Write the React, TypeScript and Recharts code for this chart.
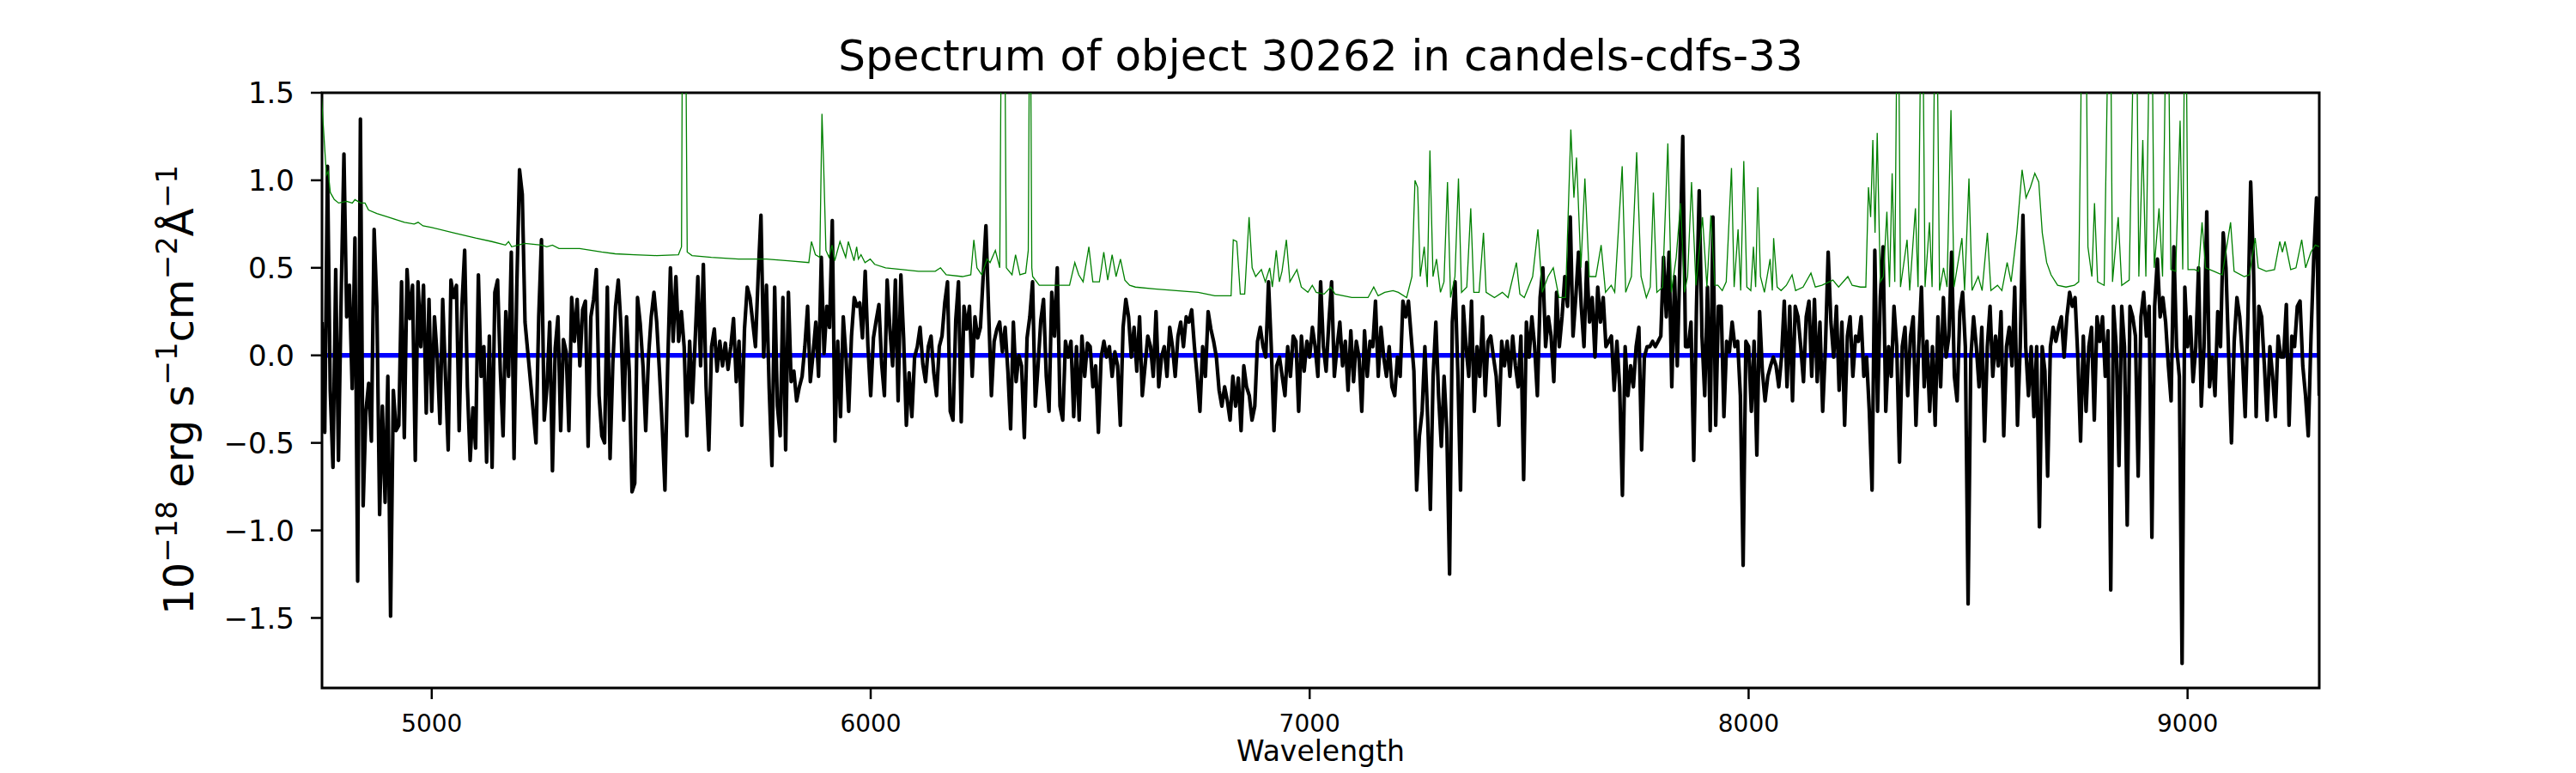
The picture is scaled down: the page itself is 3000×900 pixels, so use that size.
import React from 'react';
import { LineChart, Line, XAxis, YAxis, ReferenceArea } from 'recharts';

// axis ticks
const X_TICKS = [5000, 6000, 7000, 8000, 9000];
const Y_TICKS = [-1.5, -1.0, -0.5, 0.0, 0.5, 1.0, 1.5];
const X_RANGE = [4750, 9300];
const Y_RANGE = [-1.9, 1.5];

// observed flux, sampled on a regular wavelength grid (Angstrom)
const FLUX_START = 4750;
const FLUX_STEP = 6.25;
const flux = [
  // 4750
  0.19, -0.44, 1.08, -0.20, -0.64, 0.49, -0.60, 0.35, 1.15, 0.22, 0.40, -0.19, 0.67, -1.29, 1.35, -0.86, -0.32, -0.16, -0.49, 0.72,
  0.28, -0.91, -0.29, -0.84, -0.12, -1.49, -0.20, -0.43, -0.40, 0.42, -0.47, 0.49, 0.21, 0.40, -0.60, 0.42, 0.05, 0.40, -0.33, 0.32,
  -0.32, 0.22, -0.01, -0.39, 0.32, -0.12, -0.54, 0.43, 0.33, 0.40, -0.43, 0.28, 0.60, -0.18, -0.60, -0.30, -0.53, 0.46, -0.12, 0.05,
  -0.61, 0.11, -0.64, 0.36, 0.43, -0.09, -0.46, 0.25, -0.12, 0.59, -0.59, 0.39, 1.06, 0.92, 0.19, 0.02, -0.15, -0.32, -0.50, 0.22,
  0.66, -0.37, -0.18, 0.19, -0.66, 0.04, 0.22, -0.43, 0.09, 0.02, -0.43, 0.33, 0.08, 0.32, -0.06, 0.26, 0.31, -0.52, 0.22, 0.32,
  0.49, -0.23, -0.46, -0.50, 0.39, -0.59, -0.05, 0.28, 0.43, 0.16, -0.37, 0.22, -0.09, -0.78, -0.73, 0.33, 0.18, -0.06, -0.43, -0.01,
  0.22, 0.36, 0.19, -0.09, -0.40, -0.77, -0.06, 0.50, 0.08, 0.45, 0.08, 0.25, 0.05, -0.46, 0.08, -0.27, 0.08, 0.45, -0.06, 0.52,
  -0.18, -0.54, 0.05, 0.15, -0.09, 0.08, -0.06, 0.07, -0.08, 0.05, 0.21, -0.15, 0.08, -0.40, 0.15, 0.39, 0.33, 0.19, 0.05, 0.46,
  0.80, -0.01, 0.40, -0.19, -0.63, 0.39, -0.29, -0.46, 0.33, -0.54, 0.36, -0.15, -0.09, -0.26, -0.18, -0.12, 0.05, 0.28, -0.15, 0.01,
  0.19, -0.12, 0.56, 0.01, 0.28, 0.16, 0.77, -0.49, 0.08, -0.35, 0.22, -0.01, -0.32, 0.11, 0.33, 0.28,
  // 5975
  0.30, 0.10, 0.48, 0.05, -0.23, 0.10, 0.20, 0.29, -0.05, -0.23, 0.43, 0.15, -0.06, 0.43, -0.26, 0.46, 0.10, -0.40, -0.10, -0.35,
  -0.01, 0.05, 0.16, -0.05, -0.15, 0.05, 0.11, -0.10, -0.23, 0.05, 0.11, 0.30, 0.42, -0.32, -0.37, 0.20, 0.42, -0.38, 0.28, 0.15,
  0.28, -0.12, 0.22, 0.10, 0.16, 0.45, 0.74, 0.25, -0.23, 0.08, 0.15, 0.19, 0.02, 0.16, -0.09, -0.42, 0.19, -0.15, 0.00, -0.06,
  -0.47, 0.10, 0.22, 0.42, -0.29, -0.06, 0.20, 0.32, -0.12, -0.32, 0.36, 0.11, 0.50, -0.29, -0.37, 0.08, -0.01, 0.08, -0.35, 0.05,
  -0.37, 0.11, -0.12, 0.07, 0.05, -0.18, -0.06, -0.44, -0.01, 0.08, -0.01, 0.05, -0.12, 0.02, -0.06, -0.40, 0.16, 0.32, 0.22, -0.01,
  0.16, -0.09, 0.22, -0.23, -0.06, 0.11, 0.05, -0.12, 0.25, -0.18, -0.01, 0.05, -0.12, 0.16, 0.05, -0.12, 0.11, 0.19, 0.05, 0.22,
  0.19, 0.26, 0.05, -0.12, -0.32, 0.05, -0.12, 0.25, 0.15, 0.08, -0.01, -0.20, -0.29, -0.18, -0.26, -0.37, -0.12, -0.29, -0.13, -0.43,
  -0.06, -0.18, -0.23, -0.37, -0.29, 0.08, 0.16, 0.05, -0.01, 0.42, 0.05, -0.43, -0.06, -0.01, -0.12, -0.23, 0.05, -0.12, 0.11, 0.08,
  -0.32, 0.11, -0.09, 0.08, -0.01, 0.16, 0.05, -0.12, 0.42, 0.05, -0.09, 0.19, 0.42, -0.12, 0.05, 0.19, -0.06, 0.08, -0.20, 0.14,
  -0.15, 0.08, -0.01, -0.32, 0.14, -0.12, 0.08, 0.05, 0.31, -0.12, 0.16, -0.01, -0.12, 0.05, -0.18, -0.23, -0.01, -0.12, 0.31, 0.22,
  0.31, 0.11, -0.09, -0.77, -0.46, -0.32, 0.05, -0.35, -0.88, -0.12, 0.19, -0.23, -0.52, -0.12, -0.43, -1.25, 0.19, 0.42, -0.09, -0.77,
  0.28, 0.05, -0.12, 0.31, -0.32, 0.05, -0.12, 0.22, -0.23, 0.08, 0.11, -0.01, -0.12, -0.40, 0.08, -0.06, 0.08, -0.12, 0.11, -0.06,
  -0.18, 0.11, -0.71, 0.19, -0.01, 0.22, 0.05, -0.23, 0.33, 0.50, 0.05, 0.22, 0.11, -0.15, 0.36, 0.05, 0.22, 0.45, 0.28, 0.79,
  0.11, 0.33, 0.59, 0.28, 0.05, 0.53, 0.19, 0.33, -0.01, 0.39, 0.19, 0.33, 0.05, 0.08, 0.11, -0.20, 0.08, -0.18, -0.80, 0.05,
  -0.23, -0.06, -0.18, 0.05, 0.16, -0.54, -0.01, 0.05, 0.05, 0.08, 0.05, 0.08, 0.11, 0.56, 0.22, 0.59, -0.18, 0.45, -0.06, 0.56,
  1.25, 0.05, 0.05, 0.19, -0.60, 0.28, 0.94, 0.11, -0.23, 0.39, -0.43, 0.79, -0.40,
  // 7931
  0.28, 0.28, -0.35, 0.08, 0.02, 0.19, 0.05, 0.08, -0.23, -1.20, 0.08, 0.05, -0.32, 0.08, -0.57, 0.25, -0.09, -0.26, -0.12, -0.06,
  -0.01, -0.06, -0.18, -0.01, 0.31, -0.18, 0.28, -0.26, 0.28, 0.22, 0.05, -0.15, 0.22, 0.31, -0.12, 0.32, -0.15, 0.19, -0.32, 0.05,
  0.59, 0.19, -0.01, 0.28, -0.20, 0.19, -0.40, 0.11, 0.22, -0.12, 0.11, 0.08, 0.22, -0.12, -0.01, -0.32, -0.77, 0.60, -0.32, 0.33,
  0.62, -0.32, 0.05, -0.12, 0.28, 0.05, -0.61, 0.05, 0.16, -0.23, 0.11, 0.22, -0.40, 0.05, 0.39, -0.18, 0.08, -0.32, 0.05, -0.40,
  0.22, -0.18, 0.33, -0.01, 0.11, 0.59, -0.12, -0.26, 0.25, 0.36, 0.05, -1.42, -0.01, 0.22, 0.05, -0.18, 0.16, -0.49, 0.05, 0.28,
  -0.12, 0.11, -0.06, 0.25, -0.46, 0.05, 0.16, -0.06, 0.39, -0.40, 0.05, 0.80, 0.05, -0.23, 0.05, -0.35, 0.05, -0.98, 0.05, -0.09,
  -0.69, 0.05, 0.16, 0.08, 0.16, 0.22, -0.01, 0.22, 0.36, 0.28, 0.33, -0.01, -0.49, 0.11, -0.32, 0.05, 0.16, -0.37, 0.22, 0.08,
  0.22, -0.12, 0.14, -1.34, 0.28, 0.05, -0.63, 0.28, 0.05, -0.97, 0.28, 0.22, 0.11, -0.69, 0.22, 0.36, 0.11, 0.28, -1.04, 0.28,
  0.55, 0.22, 0.33, 0.19, -0.06, -0.26, 0.62, 0.05, -0.12, -1.76, 0.39, 0.05, 0.22, -0.15, 0.05, 0.50, -0.29, 0.05, 0.82, -0.18,
  -0.01, -0.23, 0.25, 0.05, 0.70, 0.50, -0.01, -0.50, 0.08, 0.33, 0.22, -0.01, -0.35, 0.22, 0.99, 0.53, -0.35, 0.28, 0.22, -0.06,
  -0.37, 0.05, -0.12, -0.35, 0.11, -0.01, -0.01, 0.29, -0.40, 0.11, 0.05, 0.28, 0.31, -0.06, -0.23, -0.46, 0.11, 0.56, 0.90, -0.23,
];

// noise spectrum: [wavelength, value]; sky lines run off the top
const noise = [
  [4749, 1.47], [4760, 1.03], [4764, 1.05], [4769, 0.93], [4778, 0.89], [4788, 0.87], [4806, 0.88], [4819, 0.87],
  [4825, 0.89], [4838, 0.87], [4848, 0.87], [4856, 0.83], [4875, 0.81], [4900, 0.79], [4938, 0.76], [4960, 0.75],
  [4969, 0.76], [4980, 0.74], [5000, 0.73], [5050, 0.70], [5100, 0.67], [5137, 0.65], [5168, 0.63], [5175, 0.65],
  [5182, 0.62], [5212, 0.64], [5250, 0.63], [5262, 0.62], [5275, 0.63], [5290, 0.61], [5337, 0.61], [5387, 0.59],
  [5418, 0.58], [5462, 0.575], [5512, 0.57], [5562, 0.575], [5569, 0.62], [5572, 2.5], [5577, 2.5], [5582, 0.59],
  [5593, 0.57], [5637, 0.56], [5699, 0.55], [5762, 0.55], [5812, 0.54], [5859, 0.53], [5865, 0.65], [5874, 0.575],
  [5884, 0.56], [5889, 1.38], [5893, 1.07], [5898, 0.60], [5905, 0.56], [5912, 0.63], [5918, 0.54], [5930, 0.65],
  [5943, 0.56], [5949, 0.65], [5962, 0.54], [5968, 0.62],
  [5972, 0.55], [5978, 0.575], [5987, 0.53], [5999, 0.55], [6009, 0.52], [6034, 0.50], [6072, 0.49], [6109, 0.48],
  [6147, 0.48], [6159, 0.50], [6172, 0.46], [6209, 0.45], [6228, 0.46], [6235, 0.66], [6242, 0.50], [6253, 0.46],
  [6265, 0.55], [6272, 0.53], [6284, 0.60], [6294, 0.50], [6299, 2.5], [6304, 2.5], [6309, 0.50], [6322, 0.46],
  [6330, 0.575], [6340, 0.46], [6353, 0.47], [6359, 0.60], [6363, 2.5], [6367, 0.50], [6369, 0.45], [6384, 0.40],
  [6422, 0.40], [6453, 0.40], [6465, 0.53], [6474, 0.46], [6484, 0.42], [6497, 0.62], [6506, 0.42], [6521, 0.42],
  [6531, 0.59], [6540, 0.43], [6550, 0.575], [6559, 0.45], [6569, 0.55], [6579, 0.43], [6590, 0.40], [6603, 0.39],
  [6646, 0.38], [6696, 0.37], [6746, 0.36], [6784, 0.34], [6821, 0.34], [6826, 0.66], [6834, 0.65], [6842, 0.35],
  [6852, 0.35], [6862, 0.79], [6869, 0.50], [6877, 0.45], [6890, 0.49], [6899, 0.42], [6909, 0.50], [6915, 0.39],
  [6924, 0.60], [6931, 0.42], [6937, 0.48], [6947, 0.66], [6955, 0.42], [6971, 0.49], [6981, 0.39], [6996, 0.36],
  [7006, 0.40], [7015, 0.36], [7033, 0.35], [7048, 0.39], [7058, 0.35], [7096, 0.33], [7133, 0.33], [7146, 0.39],
  [7156, 0.34], [7171, 0.36], [7190, 0.37], [7202, 0.36], [7221, 0.33], [7233, 0.45], [7240, 1.00], [7246, 0.96],
  [7252, 0.45], [7261, 0.62], [7268, 0.39], [7274, 1.17], [7281, 0.45], [7289, 0.55], [7298, 0.36], [7306, 0.42],
  [7314, 0.99], [7321, 0.33], [7331, 0.45], [7339, 1.01], [7346, 0.36], [7358, 0.39], [7367, 0.84], [7374, 0.36],
  [7386, 0.36], [7396, 0.70], [7402, 0.36], [7421, 0.33], [7439, 0.36], [7452, 0.33], [7471, 0.53], [7479, 0.35],
  [7489, 0.33], [7508, 0.45], [7520, 0.72], [7530, 0.36], [7543, 0.45], [7555, 0.50], [7568, 0.33], [7583, 0.33],
  [7595, 1.29], [7602, 0.90], [7608, 1.13], [7618, 0.50], [7627, 1.01], [7637, 0.45], [7652, 0.45], [7664, 0.63],
  [7674, 0.36], [7687, 0.40], [7695, 0.36], [7712, 1.08], [7720, 0.36], [7733, 0.45], [7745, 1.16], [7755, 0.45],
  [7767, 0.33], [7776, 0.39], [7783, 0.93], [7791, 0.36], [7804, 0.39], [7816, 1.21], [7824, 0.36], [7835, 0.56],
  [7845, 0.87], [7854, 0.36], [7861, 0.45], [7870, 0.99], [7880, 0.40], [7895, 0.79], [7905, 0.39], [7914, 0.80],
  [7923, 0.40],
  [7930, 0.40], [7940, 0.37], [7949, 0.42], [7961, 1.07], [7967, 0.39], [7976, 0.72], [7982, 0.37], [7989, 1.11],
  [7996, 0.39], [8005, 0.37], [8011, 0.62], [8016, 0.39], [8021, 0.96], [8027, 0.45], [8036, 0.36], [8049, 0.55],
  [8054, 0.37], [8057, 0.67], [8065, 0.39], [8074, 0.37], [8086, 0.40], [8099, 0.46], [8107, 0.37], [8124, 0.39],
  [8142, 0.47], [8152, 0.39], [8167, 0.40], [8192, 0.43], [8205, 0.39], [8226, 0.45], [8236, 0.40], [8255, 0.39],
  [8267, 0.39], [8273, 0.96], [8278, 0.79], [8283, 1.23], [8288, 0.70], [8293, 1.27], [8300, 0.42], [8307, 0.45],
  [8315, 0.82], [8321, 0.39], [8327, 1.04], [8333, 0.42], [8340, 2.5], [8346, 0.39], [8361, 0.66], [8367, 0.37],
  [8380, 0.84], [8386, 0.39], [8395, 2.5], [8402, 0.39], [8412, 0.76], [8418, 0.39], [8427, 2.5], [8435, 0.37],
  [8444, 0.50], [8452, 0.39], [8461, 1.40], [8468, 0.39], [8486, 0.67], [8492, 0.37], [8502, 1.01], [8509, 0.37],
  [8523, 0.45], [8532, 0.37], [8544, 0.70], [8552, 0.37], [8567, 0.40], [8577, 0.37], [8589, 0.53], [8598, 0.42],
  [8611, 0.70], [8623, 1.06], [8632, 0.90], [8642, 0.96], [8652, 1.04], [8661, 0.99], [8669, 0.70], [8679, 0.53],
  [8689, 0.46], [8704, 0.40], [8723, 0.39], [8742, 0.40], [8752, 0.42], [8757, 1.42], [8760, 2.5], [8767, 2.5],
  [8773, 0.62], [8782, 0.45], [8788, 0.87], [8795, 0.42], [8810, 0.40], [8823, 2.5], [8829, 0.42], [8842, 0.79],
  [8850, 0.40], [8867, 0.43], [8882, 2.5], [8889, 0.45], [8898, 1.23], [8905, 0.45], [8917, 2.5], [8924, 0.50],
  [8935, 0.84], [8943, 0.45], [8954, 2.5], [8962, 0.49], [8973, 0.48], [8983, 1.34], [8989, 0.49], [8995, 2.5],
  [9001, 0.49], [9016, 0.49], [9025, 0.48], [9033, 0.76], [9041, 0.50], [9060, 0.48], [9079, 0.46], [9098, 0.76],
  [9106, 0.48], [9129, 0.45], [9141, 0.46], [9154, 0.67], [9161, 0.50], [9179, 0.48], [9198, 0.49], [9210, 0.65],
  [9216, 0.59], [9222, 0.65], [9235, 0.49], [9247, 0.50], [9260, 0.66], [9269, 0.50], [9281, 0.59], [9291, 0.63],
  [9301, 0.62],
];

// fitted model (flat at zero)
const model = [[4750, 0], [9300, 0]];

const FONT = '"DejaVu Sans", sans-serif';

const fluxData = flux.map((f, i) => ({ w: FLUX_START + i * FLUX_STEP, f }));
const noiseData = noise.map(([w, v]) => ({ w, v }));
const modelData = model.map(([w, v]) => ({ w, v }));

const fmtY = (v: number) => (v < 0 ? '\u2212' : '') + Math.abs(v).toFixed(1);

export default function App() {
  return (
    <div style={{ position: 'absolute', left: 0, top: 0, width: 3000, height: 900, background: '#fff' }}>
      <LineChart width={3000} height={900} margin={{ top: 108, right: 299, bottom: 39, left: 275 }}>
        <XAxis
          type="number"
          dataKey="w"
          domain={X_RANGE}
          ticks={X_TICKS}
          interval={0}
          allowDataOverflow
          height={60}
          tickSize={13}
          tickMargin={18}
          axisLine={false}
          tickLine={{ stroke: '#000', strokeWidth: 2.5 }}
          tick={{ fontSize: 28, fill: '#000', fontFamily: FONT }}
        />
        <YAxis
          type="number"
          domain={Y_RANGE}
          ticks={Y_TICKS}
          interval={0}
          allowDataOverflow
          width={100}
          tickSize={13}
          tickMargin={19}
          tickFormatter={fmtY}
          axisLine={false}
          tickLine={{ stroke: '#000', strokeWidth: 2.5 }}
          tick={{ fontSize: 34, fill: '#000', fontFamily: FONT }}
        />
        <Line data={modelData} dataKey="v" stroke="#0000ff" strokeWidth={5.5} dot={false} isAnimationActive={false} />
        <Line
          data={fluxData}
          dataKey="f"
          stroke="#000"
          strokeWidth={4.2}
          strokeLinejoin="round"
          dot={false}
          isAnimationActive={false}
        />
        <Line data={noiseData} dataKey="v" stroke="#008000" strokeWidth={1.3} dot={false} isAnimationActive={false} />
        <ReferenceArea
          x1={X_RANGE[0]}
          x2={X_RANGE[1]}
          y1={Y_RANGE[0]}
          y2={Y_RANGE[1]}
          fill="none"
          stroke="#000"
          strokeWidth={3}
          ifOverflow="visible"
        />
      </LineChart>
      <svg
        width={3000}
        height={900}
        style={{ position: 'absolute', left: 0, top: 0, pointerEvents: 'none' }}
        fontFamily={FONT}
      >
        <text x={1538} y={82} textAnchor="middle" fontSize={50} fill="#000">
          Spectrum of object 30262 in candels-cdfs-33
        </text>
        <text x={1538} y={886} textAnchor="middle" fontSize={33} fill="#000">
          Wavelength
        </text>
        <text x={225} y={454} transform="rotate(-90 225 454)" textAnchor="middle" fontSize={48} fill="#000">
          10
          <tspan dy={-19} fontSize={34}>{'\u221218'}</tspan>
          <tspan dy={19}>{' erg s'}</tspan>
          <tspan dy={-19} fontSize={34}>{'\u22121'}</tspan>
          <tspan dy={19}>cm</tspan>
          <tspan dy={-19} fontSize={34}>{'\u22122'}</tspan>
          <tspan dy={19}>{'\u00c5'}</tspan>
          <tspan dy={-19} fontSize={34}>{'\u22121'}</tspan>
        </text>
      </svg>
    </div>
  );
}
